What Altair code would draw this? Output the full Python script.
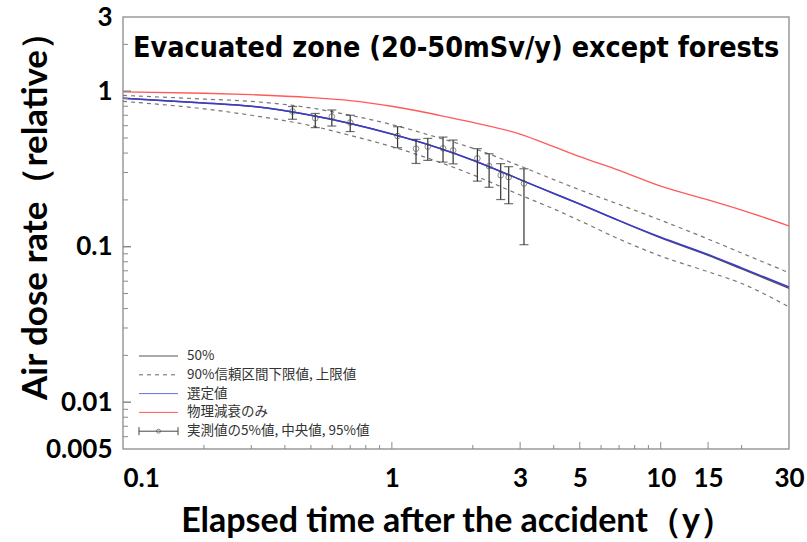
import altair as alt
import pandas as pd

# ---- data ----
x_curve = [0.1, 0.2, 0.3, 0.5, 0.7, 1, 1.5, 2, 3, 4, 5, 7, 10, 15, 20, 30]
physical = [0.99, 0.97, 0.95, 0.91, 0.87, 0.80, 0.70, 0.63, 0.53, 0.44, 0.38, 0.31, 0.245, 0.20, 0.172, 0.136]
selected = [0.90, 0.84, 0.80, 0.70, 0.62, 0.53, 0.43, 0.36, 0.27, 0.22, 0.188, 0.147, 0.115, 0.089, 0.073, 0.055]
median50 = [0.90, 0.84, 0.80, 0.70, 0.62, 0.53, 0.43, 0.36, 0.27, 0.22, 0.188, 0.147, 0.114, 0.088, 0.072, 0.054]
upper90 = [0.94, 0.89, 0.86, 0.78, 0.70, 0.61, 0.50, 0.43, 0.33, 0.27, 0.232, 0.187, 0.148, 0.112, 0.091, 0.068]
lower90 = [0.86, 0.77, 0.70, 0.60, 0.52, 0.44, 0.35, 0.29, 0.215, 0.175, 0.147, 0.112, 0.087, 0.069, 0.058, 0.041]

meas_x = [0.427, 0.519, 0.598, 0.700, 1.05, 1.23, 1.36, 1.55, 1.69, 2.08, 2.30, 2.54, 2.72, 3.10]
meas_p5 = [0.660, 0.583, 0.597, 0.550, 0.433, 0.343, 0.359, 0.350, 0.341, 0.264, 0.241, 0.201, 0.189, 0.103]
meas_med = [0.740, 0.670, 0.687, 0.628, 0.515, 0.427, 0.440, 0.429, 0.416, 0.370, 0.330, 0.288, 0.280, 0.255]
meas_p95 = [0.797, 0.719, 0.757, 0.700, 0.591, 0.490, 0.497, 0.507, 0.485, 0.427, 0.396, 0.342, 0.327, 0.317]

x_tick_labels = [0.1, 1, 3, 5, 10, 15, 30]
x_major_ticks = [1, 3, 5, 10, 15]
x_minor_ticks = [0.2, 0.3, 0.4, 0.5, 0.6, 0.7, 0.8, 0.9, 2, 4, 6, 7, 8, 9, 20]
y_tick_labels = [0.005, 0.01, 0.1, 1, 3]
y_major_ticks = [0.01, 0.1, 1]
y_minor_ticks = [2, 0.9, 0.8, 0.7, 0.6, 0.5, 0.4, 0.3, 0.2,
                 0.09, 0.08, 0.07, 0.06, 0.05, 0.04, 0.03, 0.02,
                 0.009, 0.008, 0.007, 0.006]

legend_labels = ["50%", "90%信頼区間下限値, 上限値", "選定値", "物理減衰のみ", "実測値の5%値, 中央値, 95%値"]
title_text = "Evacuated zone (20-50mSv/y) except forests"
x_title = "Elapsed time after the accident（y）"
y_title = "Air dose rate（relative）"

# ---- layout ----
W, H = 666, 432
LEFT, TOP = 123, 17
label_font = "Lato"
cjk_font = "Noto Sans CJK JP"

xs = alt.Scale(type="log", domain=[0.1, 30], nice=False)
ys = alt.Scale(type="log", domain=[0.005, 3], nice=False)

curves = pd.DataFrame({"x": x_curve, "physical": physical, "selected": selected,
                       "median50": median50, "upper90": upper90, "lower90": lower90})
meas = pd.DataFrame({"x": meas_x, "p5": meas_p5, "med": meas_med, "p95": meas_p95})

x_axis = alt.Axis(values=x_tick_labels, format="~g", ticks=False, domain=False,
                  grid=False, labelFont=label_font, labelFontWeight="bold", labelFontSize=26,
                  labelColor="black", labelPadding=16, labelFlush=False,
                  labelAlign={"condition": {"test": "datum.value < 0.2", "value": "left"},
                              "value": "center"},
                  title=x_title, titleFont=label_font,
                  titleFontWeight="bold", titleFontSize=34, titleColor="black",
                  titleX=334, titleY=72, titleBaseline="middle")
y_axis = alt.Axis(values=y_tick_labels, format="~g", ticks=False, domain=False,
                  grid=False, labelFont=label_font, labelFontWeight="bold", labelFontSize=26,
                  labelColor="black", labelPadding=11,
                  title=y_title, titleFont=label_font,
                  titleFontWeight="bold", titleFontSize=35, titleColor="black",
                  titleX=-88, titleY=190, titleAngle=270, titleBaseline="middle", titleAlign="center")

def X(field):
    return alt.X(f"{field}:Q", scale=xs, axis=x_axis)

def Y(field):
    return alt.Y(f"{field}:Q", scale=ys, axis=y_axis)

base = alt.Chart(curves)

def line(col, color, width=1.3, dash=None):
    kw = dict(color=color, strokeWidth=width, interpolate="monotone", clip=True)
    if dash:
        kw["strokeDash"] = dash
    return base.mark_line(**kw).encode(x=X("x"), y=Y(col))

l_phys = line("physical", "#ff5a5a")
l_up = line("upper90", "#777777", 1.2, [4, 4])
l_lo = line("lower90", "#777777", 1.2, [4, 4])
l_med = line("median50", "#555555", 1.4)
l_sel = line("selected", "#3a3acc", 1.5)

mb = alt.Chart(meas)
err = mb.mark_rule(color="#333333", strokeWidth=1.2).encode(x=X("x"), y=Y("p5"), y2="p95:Q")
cap_lo = mb.mark_tick(color="#333333", orient="horizontal", size=9, thickness=1.2).encode(
    x=X("x"), y=Y("p5"))
cap_hi = mb.mark_tick(color="#333333", orient="horizontal", size=9, thickness=1.2).encode(
    x=X("x"), y=Y("p95"))
med_pt = mb.mark_point(shape="circle", filled=False, color="#555555", size=32, strokeWidth=1).encode(
    x=X("x"), y=Y("med"))

# ---- inward ticks ----
tick_col = "#8a8a8a"
xmaj = alt.Chart(pd.DataFrame({"v": x_major_ticks})).mark_rule(color=tick_col, strokeWidth=1).encode(
    x=X("v"), y=alt.value(H), y2=alt.value(H - 7))
xmin = alt.Chart(pd.DataFrame({"v": x_minor_ticks})).mark_rule(color=tick_col, strokeWidth=1).encode(
    x=X("v"), y=alt.value(H), y2=alt.value(H - 4))
ymaj = alt.Chart(pd.DataFrame({"v": y_major_ticks})).mark_rule(color=tick_col, strokeWidth=1.5).encode(
    y=Y("v"), x=alt.value(0), x2=alt.value(8))
ymin = alt.Chart(pd.DataFrame({"v": y_minor_ticks})).mark_rule(color=tick_col, strokeWidth=1).encode(
    y=Y("v"), x=alt.value(0), x2=alt.value(5))

one = pd.DataFrame({"a": [0]})

# ---- title inside plot ----
title = alt.Chart(one).mark_text(
    align="left", baseline="middle", font="DejaVu Sans Condensed", fontWeight="bold",
    fontSize=28.5, color="black", text=title_text).encode(x=alt.value(10), y=alt.value(31))

# ---- legend ----
ly0, ldy = 339, 18.8
lx1, lx2, ltx = 16, 55, 64
rows = [ly0 + i * ldy for i in range(len(legend_labels))]
leg_texts = [alt.Chart(one).mark_text(
    align="left", baseline="middle", font=cjk_font, fontSize=13.5, color="#333333", text=lab).encode(
    x=alt.value(ltx), y=alt.value(r)) for lab, r in zip(legend_labels, rows)]

def leg_line(i, color, dash=None, width=1):
    kw = dict(color=color, strokeWidth=width)
    if dash:
        kw["strokeDash"] = dash
    return alt.Chart(one).mark_rule(**kw).encode(
        x=alt.value(lx1), x2=alt.value(lx2), y=alt.value(rows[i]))

lg = [leg_line(0, "#555555"), leg_line(1, "#666666", [4, 4]), leg_line(2, "#6a6aee"),
      leg_line(3, "#ff5a5a"), leg_line(4, "#444444")]
lg_caps = [alt.Chart(one).mark_rule(color="#444444", strokeWidth=1).encode(
    x=alt.value(xx), y=alt.value(rows[4] - 4), y2=alt.value(rows[4] + 4)) for xx in (lx1, lx2)]
lg_pt = alt.Chart(one).mark_point(
    shape="circle", filled=False, color="#555555", size=16, strokeWidth=1).encode(
    x=alt.value((lx1 + lx2) / 2), y=alt.value(rows[4]))

chart = alt.layer(
    l_phys, l_up, l_lo, l_med, l_sel, err, cap_lo, cap_hi, med_pt,
    xmaj, xmin, ymaj, ymin, title, *leg_texts, *lg, *lg_caps, lg_pt
).properties(
    width=W, height=H,
    autosize=alt.AutoSizeParams(type="none"),
    padding={"left": LEFT, "top": TOP, "right": 807 - LEFT - W, "bottom": 542 - TOP - H},
    background="white",
).configure_view(stroke="#9a9a9a", strokeWidth=1.5)

chart.save("out.html", embed_options={"renderer": "svg", "actions": False})
